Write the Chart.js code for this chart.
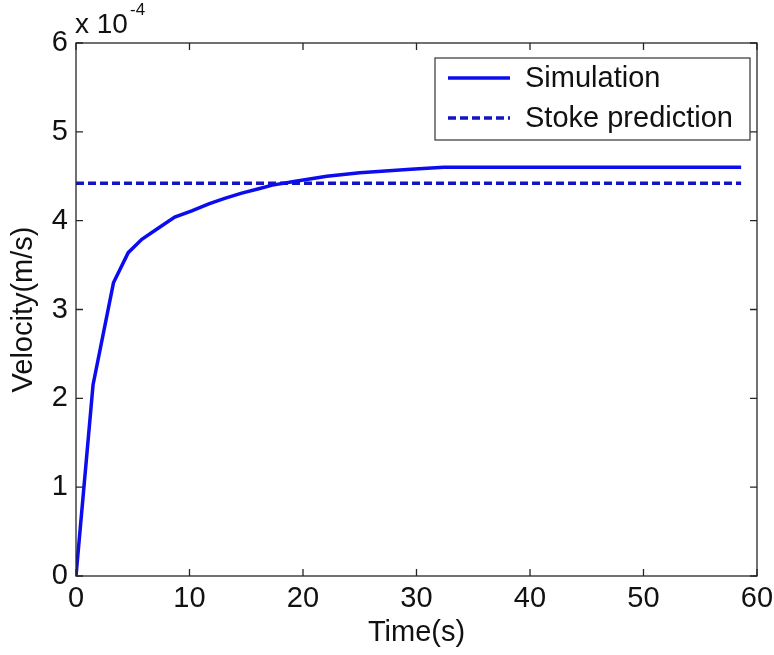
<!DOCTYPE html>
<html>
<head>
<meta charset="utf-8">
<script src="https://cdn.jsdelivr.net/npm/chart.js@4/dist/chart.umd.min.js"></script>
<style>
    html, body { margin: 0; padding: 0; background: #fff; }
    #wrap { width: 774px; height: 655px; }
</style>
</head>
<body>
<div id="wrap"><canvas id="VelocityChart" width="774" height="655"></canvas></div>
<script>
// velocities are in units of 1e-4 m/s (axis shows "x 10^-4")
var simTime = [0, 1.5, 3.3, 4.6, 5.8, 7.3, 8.7, 10.2, 11.7, 13.1, 14.6, 16.1, 17.3, 19.2, 22.1, 25, 29.5, 32.4, 58.6];
var simVelocity = [0, 2.15, 3.3, 3.64, 3.79, 3.92, 4.04, 4.11, 4.19, 4.25, 4.31, 4.36, 4.40, 4.44, 4.50, 4.54, 4.58, 4.60, 4.60];
var stokeTime = [0, 58.6];
var stokeVelocity = [4.42, 4.42];
var xTicks = [0, 10, 20, 30, 40, 50, 60];
var yTicks = [0, 1, 2, 3, 4, 5, 6];
var seriesLabels = ['Simulation', 'Stoke prediction'];

var fontFamily = '"Liberation Sans", Arial, sans-serif';

var toPoints = function (xs, ys) {
    var pts = [];
    for (var i = 0; i < xs.length; i++) {
        pts.push({x: xs[i], y: ys[i]});
    }
    return pts;
};

// matlab style box, inward ticks, legend and exponent
var matlabAxes = {
    id: 'matlabAxes',
    afterDraw: function (chart) {
        var ctx = chart.ctx;
        var area = chart.chartArea;
        var xs = chart.scales.x;
        var ys = chart.scales.y;
        var tl = 7;
        ctx.save();
        ctx.strokeStyle = '#262626';
        ctx.lineWidth = 1.3;
        ctx.setLineDash([]);
        ctx.strokeRect(area.left, area.top, area.right - area.left, area.bottom - area.top);
        ctx.beginPath();
        xTicks.forEach(function (v) {
            var px = xs.getPixelForValue(v);
            ctx.moveTo(px, area.bottom);
            ctx.lineTo(px, area.bottom - tl);
            ctx.moveTo(px, area.top);
            ctx.lineTo(px, area.top + tl);
        });
        yTicks.forEach(function (v) {
            var py = ys.getPixelForValue(v);
            ctx.moveTo(area.left, py);
            ctx.lineTo(area.left + tl, py);
            ctx.moveTo(area.right, py);
            ctx.lineTo(area.right - tl, py);
        });
        ctx.stroke();

        // exponent
        ctx.fillStyle = '#111';
        ctx.textAlign = 'left';
        ctx.textBaseline = 'alphabetic';
        ctx.font = '28px ' + fontFamily;
        ctx.fillText('x 10', area.left - 1, area.top - 10);
        ctx.font = '17px ' + fontFamily;
        ctx.fillText('-4', area.left + 54, area.top - 28);

        // legend
        var bx = area.left + 359, by = area.top + 15, bw = 315, bh = 82;
        ctx.fillStyle = '#fff';
        ctx.fillRect(bx, by, bw, bh);
        ctx.strokeStyle = '#333';
        ctx.lineWidth = 1.2;
        ctx.strokeRect(bx, by, bw, bh);
        ctx.font = '29px ' + fontFamily;
        ctx.textBaseline = 'middle';
        chart.data.datasets.forEach(function (ds, i) {
            var ly = by + 20 + i * 40;
            ctx.strokeStyle = ds.borderColor;
            ctx.lineWidth = ds.borderWidth;
            ctx.setLineDash(ds.borderDash || []);
            ctx.beginPath();
            ctx.moveTo(bx + 13, ly);
            ctx.lineTo(bx + 75, ly);
            ctx.stroke();
            ctx.setLineDash([]);
            ctx.fillStyle = '#111';
            ctx.fillText(ds.label, bx + 90, ly + 1);
        });
        ctx.restore();
    }
};

var ctxVelocity = document.getElementById('VelocityChart').getContext('2d');
var VelocityChart = new Chart(ctxVelocity, {
    type: 'line',
    data: {
        datasets: [
            {
                label: seriesLabels[0],
                data: toPoints(simTime, simVelocity),
                borderColor: '#0c0cee',
                borderWidth: 3.5,
                pointRadius: 0,
                tension: 0,
                fill: false
            },
            {
                label: seriesLabels[1],
                data: toPoints(stokeTime, stokeVelocity),
                borderColor: '#1414c4',
                borderWidth: 3.5,
                borderDash: [8, 4],
                pointRadius: 0,
                tension: 0,
                fill: false
            }
        ]
    },
    options: {
        responsive: false,
        animation: false,
        devicePixelRatio: 1,
        layout: {
            padding: {left: 0, right: 17, top: 43, bottom: 0}
        },
        plugins: {
            legend: {display: false},
            tooltip: {enabled: false}
        },
        scales: {
            x: {
                type: 'linear',
                min: 0,
                max: 60,
                grid: {display: false, drawTicks: false},
                border: {display: false},
                afterBuildTicks: function (scale) {
                    scale.ticks = xTicks.map(function (v) { return {value: v}; });
                },
                afterFit: function (scale) {
                    scale.height = 79;
                    scale.paddingRight = 0;
                    scale.paddingLeft = 0;
                },
                ticks: {
                    color: '#111',
                    padding: 6,
                    maxRotation: 0,
                    font: {family: fontFamily, size: 29}
                },
                title: {
                    display: true,
                    text: 'Time(s)',
                    color: '#111',
                    padding: {top: 0, bottom: 8},
                    font: {family: fontFamily, size: 29, lineHeight: 1}
                }
            },
            y: {
                type: 'linear',
                min: 0,
                max: 6,
                grid: {display: false, drawTicks: false},
                border: {display: false},
                afterBuildTicks: function (scale) {
                    scale.ticks = yTicks.map(function (v) { return {value: v}; });
                },
                afterFit: function (scale) {
                    scale.width = 76;
                },
                ticks: {
                    color: '#111',
                    padding: 8,
                    font: {family: fontFamily, size: 29}
                },
                title: {
                    display: true,
                    text: 'Velocity(m/s)',
                    color: '#111',
                    padding: {top: 9, bottom: 0},
                    font: {family: fontFamily, size: 29, lineHeight: 1}
                }
            }
        }
    },
    plugins: [matlabAxes]
});
</script>
</body>
</html>
